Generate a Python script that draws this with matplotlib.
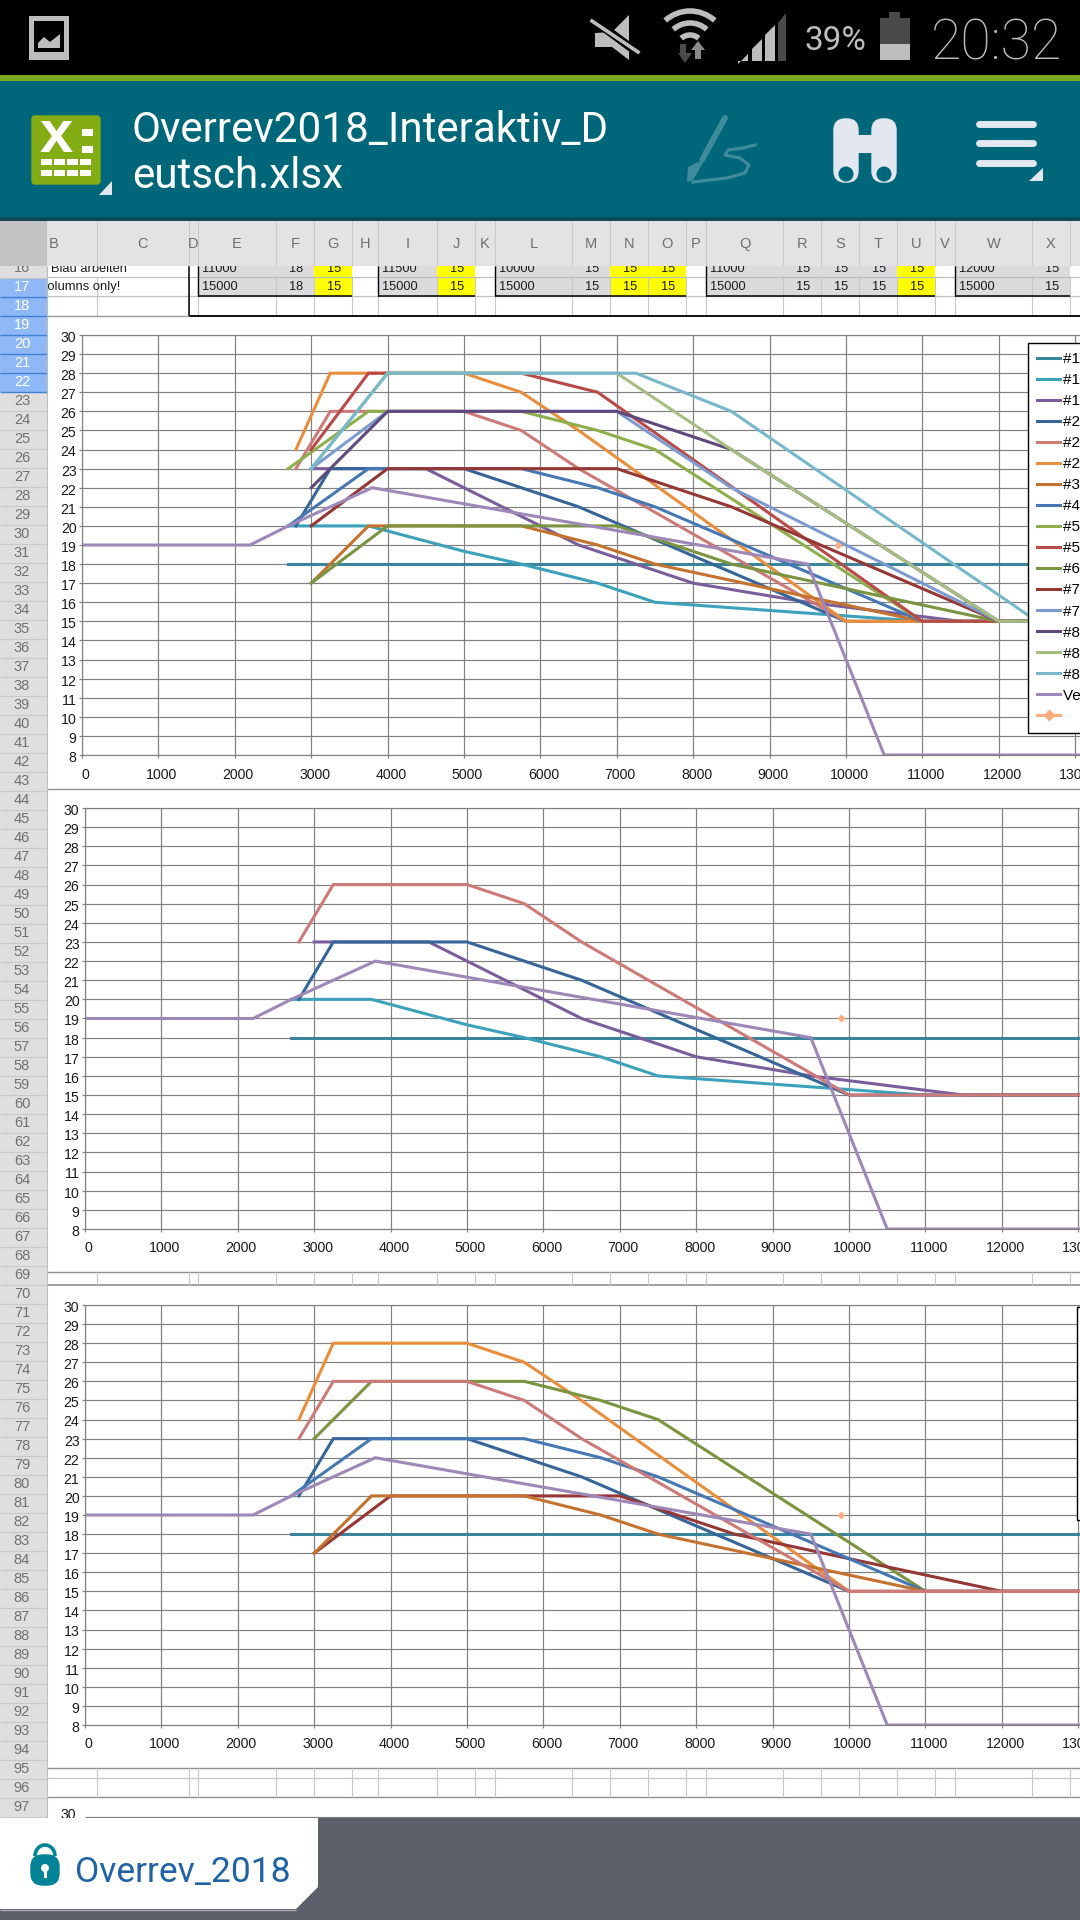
import matplotlib
matplotlib.use('Agg')
import matplotlib.pyplot as plt
from matplotlib.lines import Line2D
from matplotlib.patches import Rectangle, Polygon, Circle, FancyBboxPatch, Arc
from matplotlib.transforms import ScaledTranslation

plt.rcParams['font.family'] = ['Liberation Sans', 'DejaVu Sans']

# curves (rpm, value)
a1_x = [2700, 14000]
a1_y = [18, 18]
a2_x = [2700, 3750, 5000, 5750, 6750, 7500, 11000, 14000]
a2_y = [20, 20, 18.67, 18, 17, 16, 15, 15]
a3_x = [3000, 4500, 5000, 6500, 8000, 9500, 11500, 14000]
a3_y = [23, 23, 22, 19, 17, 16, 15, 15]
b1_x = [2800, 3250, 5000, 6500, 10000, 14000]
b1_y = [20, 23, 23, 21, 15, 15]
b2_x = [2800, 3250, 5000, 5750, 6500, 10000, 14000]
b2_y = [23, 26, 26, 25, 23, 15, 15]
b3_x = [2800, 3250, 5000, 5750, 6500, 10000, 14000]
b3_y = [24, 28, 28, 27, 25, 15, 15]
c1_x = [3000, 3750, 5750, 6750, 7500, 11000, 14000]
c1_y = [17, 20, 20, 19, 18, 15, 15]
d1_x = [2700, 3750, 5750, 6750, 7500, 11000, 14000]
d1_y = [20, 23, 23, 22, 21, 15, 15]
e1_x = [2700, 3750, 5750, 6750, 7500, 11000, 14000]
e1_y = [23, 26, 26, 25, 24, 15, 15]
e3_x = [3000, 3750, 5750, 6750, 7500, 11000, 14000]
e3_y = [23, 26, 26, 25, 24, 15, 15]
e2_x = [3000, 3750, 5750, 6750, 11000, 14000]
e2_y = [24, 28, 28, 27, 15, 15]
f1_x = [3000, 4000, 7000, 8500, 12000, 14000]
f1_y = [17, 20, 20, 18, 15, 15]
g1_x = [3000, 4000, 7000, 8500, 12000, 14000]
g1_y = [20, 23, 23, 21, 15, 15]
g2_x = [3000, 4000, 7000, 8500, 12000, 14000]
g2_y = [23, 26, 26, 22, 15, 15]
h1_x = [3000, 4000, 7000, 8500, 12000, 14000]
h1_y = [22, 26, 26, 24, 15, 15]
h2_x = [3000, 4000, 7000, 8500, 12000, 14000]
h2_y = [23, 28, 28, 24, 15, 15]
h3_x = [3000, 4000, 7250, 8500, 12500, 14000]
h3_y = [23, 28, 28, 26, 15, 15]
ve_x = [0, 2200, 2700, 3800, 9500, 10000, 10500, 14000]
ve_y = [19, 19, 20, 22, 18, 13, 8, 8]
pt_x = [9900]
pt_y = [19]

top_series = [(a1_x, a1_y, '#3A849C', '#1'), (a2_x, a2_y, '#3CA2BC', '#1'), (a3_x, a3_y, '#7A5E9C', '#1'),
              (b1_x, b1_y, '#36659A', '#2'), (b2_x, b2_y, '#CD7A78', '#2'), (b3_x, b3_y, '#E98E3D', '#2'),
              (c1_x, c1_y, '#C5722F', '#3'), (d1_x, d1_y, '#4578B5', '#4'), (e1_x, e1_y, '#8FAF4C', '#5'),
              (e2_x, e2_y, '#B94A48', '#5'), (f1_x, f1_y, '#7A9440', '#6'), (g1_x, g1_y, '#953735', '#7'),
              (g2_x, g2_y, '#7D9BD0', '#7'), (h1_x, h1_y, '#604A7B', '#8'), (h2_x, h2_y, '#A6BE80', '#8'),
              (h3_x, h3_y, '#78B8CC', '#8'), (ve_x, ve_y, '#9D88B8', 'Ve')]
mid_series = [(a1_x, a1_y, '#3A849C'), (a2_x, a2_y, '#3CA2BC'), (a3_x, a3_y, '#7A5E9C'),
              (b1_x, b1_y, '#36659A'), (b2_x, b2_y, '#CD7A78'), (ve_x, ve_y, '#9D88B8')]
low_series = [(a1_x, a1_y, '#3A849C'), (b1_x, b1_y, '#36659A'), (b3_x, b3_y, '#E98E3D'),
              (e3_x, e3_y, '#7A9440'), (f1_x, f1_y, '#953735'), (d1_x, d1_y, '#4578B5'),
              (c1_x, c1_y, '#C5722F'), (b2_x, b2_y, '#CD7A78'), (ve_x, ve_y, '#9D88B8')]

x_ticks = list(range(0, 14000, 1000))
y_ticks = list(range(8, 31))

# spreadsheet header
col_names = ['B', 'C', 'D', 'E', 'F', 'G', 'H', 'I', 'J', 'K', 'L', 'M', 'N', 'O', 'P', 'Q', 'R', 'S', 'T', 'U', 'V', 'W', 'X']
col_edges = [47, 97, 189, 198, 276, 314, 352, 378, 437, 475, 495, 572, 610, 648, 686, 706, 783, 821, 859, 897, 935, 955, 1032, 1070]
row16 = {'E': '11000', 'F': '18', 'G': '15', 'I': '11500', 'J': '15', 'L': '10000', 'M': '15', 'N': '15', 'O': '15',
         'Q': '11000', 'R': '15', 'S': '15', 'T': '15', 'U': '15', 'W': '12000', 'X': '15'}
row17 = {'E': '15000', 'F': '18', 'G': '15', 'I': '15000', 'J': '15', 'L': '15000', 'M': '15', 'N': '15', 'O': '15',
         'Q': '15000', 'R': '15', 'S': '15', 'T': '15', 'U': '15', 'W': '15000', 'X': '15'}
yellow_cols = ['G', 'J', 'N', 'O', 'U']

WIDTH = 1080
HEIGHT = 1920
ICON = '#BDBDBD'
TEAL = '#00667A'


def rect(ax, x, y, w, h, color, z=1):
    ax.add_patch(Rectangle((x, y), w, h, facecolor=color, edgecolor='none', zorder=z))


def hline(ax, y, x0, x1, color, lw=1.0, z=2):
    ax.plot([x0, x1], [y, y], color=color, lw=lw, zorder=z, solid_capstyle='butt')


def vline(ax, x, y0, y1, color, lw=0.8, z=2):
    ax.plot([x, x], [y0, y1], color=color, lw=lw, zorder=z, solid_capstyle='butt')


def draw_chart(fig, x0, y30, y8, series):
    ax = fig.add_axes([x0 / WIDTH, 1 - y8 / HEIGHT, (WIDTH - x0) / WIDTH, (y8 - y30) / HEIGHT], zorder=2)
    ax.set_facecolor('white')
    ax.set_xlim(0, (WIDTH - x0) / 76.4 * 1000)
    ax.set_ylim(8, 30)
    ax.set_xticks(x_ticks)
    ax.set_yticks(y_ticks)
    ax.grid(True, color='#808080', lw=0.85)
    ax.set_axisbelow(True)
    ax.spines['right'].set_visible(False)
    for s in ['left', 'top', 'bottom']:
        ax.spines[s].set_color('#808080')
        ax.spines[s].set_linewidth(0.85)
    ax.tick_params(length=2, width=0.85, color='#808080', labelsize=10.2, labelcolor='#1A1A1A')
    ax.tick_params(axis='x', pad=7)
    ax.tick_params(axis='y', pad=2)
    shift_x = ScaledTranslation(2.5 / 72, 0, fig.dpi_scale_trans)
    shift_y = ScaledTranslation(0, -1 / 72, fig.dpi_scale_trans)
    for lab in ax.get_xticklabels():
        lab.set_transform(lab.get_transform() + shift_x)
    for lab in ax.get_yticklabels():
        lab.set_transform(lab.get_transform() + shift_y)
    lines = []
    for s in series:
        line, = ax.plot(s[0], s[1], color=s[2], lw=2.2, solid_joinstyle='miter')
        lines.append(line)
    ax.plot(pt_x, pt_y, color='#FFAB80', marker='D', ms=3.6, lw=2.0, mec='none')
    return ax, lines


def status_bar(bg):
    rect(bg, 0, 0, WIDTH, 75, 'black')
    rect(bg, 0, 75, WIDTH, 6, '#7AAB1E')
    # picture icon
    rect(bg, 29, 16, 40, 44, ICON, 2)
    rect(bg, 34, 21, 30, 31, 'black', 3)
    bg.add_patch(Polygon([(38, 48), (38, 43), (44, 37), (50, 42), (60, 34), (60, 48)], facecolor=ICON, zorder=4))
    # muted speaker
    bg.add_patch(Polygon([(595, 33), (595, 47), (612, 47), (629, 60), (629, 15), (612, 32)], facecolor=ICON, zorder=2))
    bg.plot([591, 638], [18, 53], color='black', lw=6, zorder=3)
    bg.plot([592, 638], [21, 52], color=ICON, lw=2.6, zorder=4)
    # wifi
    for r, lw in [(37, 4), (25, 4), (13, 4)]:
        bg.add_patch(Arc((690, 48), 2 * r, 2 * r, theta1=228, theta2=312, color=ICON, lw=lw, zorder=3))
    bg.add_patch(Polygon([(680, 44), (686, 44), (686, 53), (692, 53), (685, 63), (678, 53), (680, 53)], facecolor='#4A4A4A', zorder=4))
    bg.add_patch(Polygon([(695, 59), (701, 59), (701, 50), (705, 50), (698, 41), (691, 50), (695, 50)], facecolor='#8A8A8A', zorder=4))
    # signal bars, the last one is not filled
    bar_x = [738, 752, 765, 778]
    bar_w = [10, 10, 10, 8]
    bar_top = [54, 39, 25, 13]
    for i in range(4):
        c = '#4A4A4A' if i == 3 else ICON
        xs = bar_x[i]
        bg.add_patch(Polygon([(xs, 61), (xs + bar_w[i], 61), (xs + bar_w[i], bar_top[i]), (xs, bar_top[i] + 10)], facecolor=c, zorder=2))
    bg.text(805, 41, '39%', color=ICON, fontsize=24, family='Roboto', ha='left', va='center', zorder=3)
    # battery
    rect(bg, 880, 18, 30, 26, '#4A4A4A', 2)
    rect(bg, 889, 12, 11, 6, '#4A4A4A', 2)
    rect(bg, 880, 44, 30, 16, ICON, 2)
    bg.text(931, 60, '20:32', color=ICON, fontsize=40, family='Roboto', fontweight='light', ha='left', va='baseline', zorder=3)


def app_bar(bg):
    rect(bg, 0, 81, WIDTH, 137, TEAL)
    rect(bg, 0, 217, WIDTH, 4, '#0E4A56', 2)
    bg.add_patch(FancyBboxPatch((32, 116), 68, 68, boxstyle='round,pad=0,rounding_size=3', facecolor='#84AC14', edgecolor='#84AC14', zorder=2))
    bg.text(40, 152, 'x', color='white', fontsize=43, fontweight='bold', ha='left', va='baseline', zorder=3)
    rect(bg, 82, 129, 11, 7, 'white', 3)
    rect(bg, 82, 146, 11, 7, 'white', 3)
    for j in range(4):
        rect(bg, 41 + j * 13, 159, 11, 6, 'white', 3)
        rect(bg, 41 + j * 13, 170, 11, 6, 'white', 3)
    bg.add_patch(Polygon([(99, 195), (112, 195), (112, 181)], facecolor='#E3E7F0', zorder=3))
    bg.text(132, 142, 'Overrev2018_Interaktiv_D', color='white', fontsize=30.3, family='Roboto', ha='left', va='baseline', zorder=3)
    bg.text(132, 188, 'eutsch.xlsx', color='white', fontsize=30.3, family='Roboto', ha='left', va='baseline', zorder=3)
    # pen
    pen = '#3F8B9B'
    bg.plot([725, 702], [118, 160], color=pen, lw=4.2, solid_capstyle='round', zorder=3)
    bg.add_patch(Polygon([(688, 167), (698, 162), (703, 163), (693, 180), (687, 182)], facecolor=pen, zorder=3))
    bg.plot([693, 727, 745, 749, 740, 725, 728, 743, 755], [182, 178, 173, 165, 158, 155, 150, 148, 145],
            color=pen, lw=2.3, solid_joinstyle='round', zorder=3)
    # binoculars
    ice = '#E3E7F0'
    for bx in [834, 872]:
        bg.add_patch(FancyBboxPatch((bx, 119), 24, 63, boxstyle='round,pad=0,rounding_size=11', facecolor=ice, edgecolor=ice, zorder=3))
        bg.add_patch(Circle((bx + 12, 174), 7.5, facecolor=TEAL, edgecolor='none', zorder=4))
    rect(bg, 856, 135, 18, 18, ice, 3)
    for hy in [123.5, 143, 162.5]:
        bg.plot([979, 1033], [hy, hy], color=ice, lw=5, solid_capstyle='round', zorder=3)
    bg.add_patch(Polygon([(1029, 181), (1043, 181), (1043, 168)], facecolor=ice, zorder=3))


def sheet_cells(bg):
    rect(bg, 47, 266, WIDTH - 47, 1654, 'white', 0.5)
    for e in col_edges:
        vline(bg, e, 277, 316, '#C8C8C8')
    hline(bg, 277, 47, WIDTH, '#BEBEBE', 0.9)
    hline(bg, 296, 47, WIDTH, '#BEBEBE', 0.9)
    for i in range(len(col_names)):
        n = col_names[i]
        left = col_edges[i]
        w = col_edges[i + 1] - left
        if n in row17:
            c = '#FFFF00' if n in yellow_cols else '#DCDADD'
            rect(bg, left, 260, w, 36, c, 1.5)
            hline(bg, 296, left, left + w, 'black', 1.1, 2.5)
            if c != '#FFFF00' and len(row17[n]) == 5:
                vline(bg, left, 260, 296, 'black', 1.0, 2.5)
            for yy, row in [(269, row16), (287, row17)]:
                if len(row[n]) == 5:
                    bg.text(left + 4, yy, row[n], fontsize=9.2, color='#1A1A1A', ha='left', va='center', zorder=3)
                else:
                    bg.text(left + w / 2 + 1, yy, row[n], fontsize=9.2, color='#1A1A1A', ha='center', va='center', zorder=3)
    bg.text(51, 269, 'Blau arbeiten', fontsize=9.3, color='#1A1A1A', ha='left', va='center', zorder=3)
    bg.text(120, 287, 'Columns only!', fontsize=9.4, color='#1A1A1A', ha='right', va='center', zorder=3)
    vline(bg, 189, 266, 316, 'black', 1.1, 2.5)
    hline(bg, 316, 189, WIDTH, 'black', 1.3, 2.5)
    hline(bg, 316, 47, 189, '#9A9A9A', 1.0, 2.5)
    # bands between the charts
    hline(bg, 789, 47, WIDTH, '#909090', 1.0)
    hline(bg, 1272, 47, WIDTH, '#909090', 1.0)
    hline(bg, 1285, 47, WIDTH, '#909090', 1.2)
    hline(bg, 1768, 47, WIDTH, '#909090', 1.0)
    hline(bg, 1778, 47, WIDTH, '#C8C8C8', 1.0)
    hline(bg, 1797, 47, WIDTH, '#909090', 1.0)
    for e in col_edges[1:]:
        vline(bg, e, 1272, 1285, '#C8C8C8')
        vline(bg, e, 1768, 1797, '#C8C8C8')
    # column header
    rect(bg, 47, 221, WIDTH - 47, 45, '#E4E2E5', 4)
    rect(bg, 0, 221, 47, 45, '#C4C2C4', 4)
    for e in col_edges[1:]:
        vline(bg, e, 221, 266, '#CACACA', 0.8, 4.5)
    for i in range(len(col_names)):
        xc = (col_edges[i] + col_edges[i + 1]) / 2
        if col_names[i] == 'B':
            xc = 54
        bg.text(xc, 244, col_names[i], fontsize=10.5, color='#6E6E6E', ha='center', va='center', zorder=5)
    # row header
    rect(bg, 0, 266, 47, 1654, '#DFDFDF', 3.5)
    for n in range(16, 98):
        cy = 287 + (n - 17) * 19.0
        if 17 <= n <= 22:
            rect(bg, 0, cy - 9.5, 47, 19, '#8FB8F7', 3.6)
            hline(bg, cy + 9.5, 0, 47, '#3E80D8', 1.0, 3.7)
            col = 'white'
        else:
            hline(bg, cy + 9.5, 0, 47, '#C8C8C8', 0.8, 3.7)
            col = '#707070'
        bg.text(22, cy, str(n), fontsize=10.5, color=col, ha='center', va='center', zorder=3.8)
    vline(bg, 47, 266, HEIGHT, '#BEBEBE', 0.8, 3.7)
    # next chart just begins above the tab bar
    hline(bg, 1817, 85, WIDTH, '#808080', 0.85)
    bg.text(76, 1815, '30', fontsize=10.2, color='#1A1A1A', ha='right', va='center', zorder=3)


def tab_bar(over):
    rect(over, 0, 1818, WIDTH, 102, '#5C606A', 1)
    over.add_patch(Polygon([(0, 1818), (318, 1818), (318, 1887), (296, 1909), (0, 1909)], facecolor='white', edgecolor='none', zorder=2))
    hline(over, 1909.5, 0, 296, '#A8A8A8', 1.0, 2)
    # lock
    lock = '#008396'
    over.add_patch(Arc((45, 1856), 20, 22, theta1=180, theta2=360, color=lock, lw=2.6, zorder=3))
    over.add_patch(FancyBboxPatch((31, 1855), 28, 30, boxstyle='round,pad=0,rounding_size=12', facecolor=lock, edgecolor=lock, zorder=3))
    over.add_patch(Circle((45, 1868), 4, facecolor='white', edgecolor='none', zorder=4))
    rect(over, 43.5, 1868, 3, 10, 'white', 4)
    over.text(75, 1882, 'Overrev_2018', color='#1F62A5', fontsize=25.5, family='Roboto', ha='left', va='baseline', zorder=3)


def run():
    fig = plt.figure(figsize=(WIDTH / 100, HEIGHT / 100), dpi=100, facecolor='white')
    bg = fig.add_axes([0, 0, 1, 1], zorder=0)
    bg.set_xlim(0, WIDTH)
    bg.set_ylim(HEIGHT, 0)
    bg.axis('off')

    status_bar(bg)
    app_bar(bg)
    sheet_cells(bg)

    ax1, lines = draw_chart(fig, 82, 335, 755, top_series)
    ax2, _ = draw_chart(fig, 85, 808, 1229, mid_series)
    ax3, _ = draw_chart(fig, 85, 1305, 1725, low_series)

    nbsp = '\u00a0' * 12
    labels = [s[3] + nbsp for s in top_series] + [nbsp]
    handles = lines + [Line2D([], [], color='#FFAB80', lw=2.2, marker='D', ms=6, mec='none')]
    leg = ax1.legend(handles, labels, loc='upper left', bbox_to_anchor=(1028 / WIDTH, 1 - 343 / HEIGHT),
                     bbox_transform=fig.transFigure, borderaxespad=0, fontsize=11, frameon=True,
                     fancybox=False, framealpha=1, edgecolor='black', handlelength=1.5,
                     handletextpad=0.2, labelspacing=0.46, borderpad=0.6)
    leg.get_frame().set_linewidth(1.0)

    over = fig.add_axes([0, 0, 1, 1], zorder=5)
    over.set_xlim(0, WIDTH)
    over.set_ylim(HEIGHT, 0)
    over.axis('off')
    over.patch.set_visible(False)
    # legend of the third chart, nearly all off screen
    over.add_patch(Rectangle((1077, 1307), 10, 213, facecolor='white', edgecolor='black', lw=1.0))
    tab_bar(over)

    fig.savefig('out.png', dpi=100)


if __name__ == '__main__':
    run()
